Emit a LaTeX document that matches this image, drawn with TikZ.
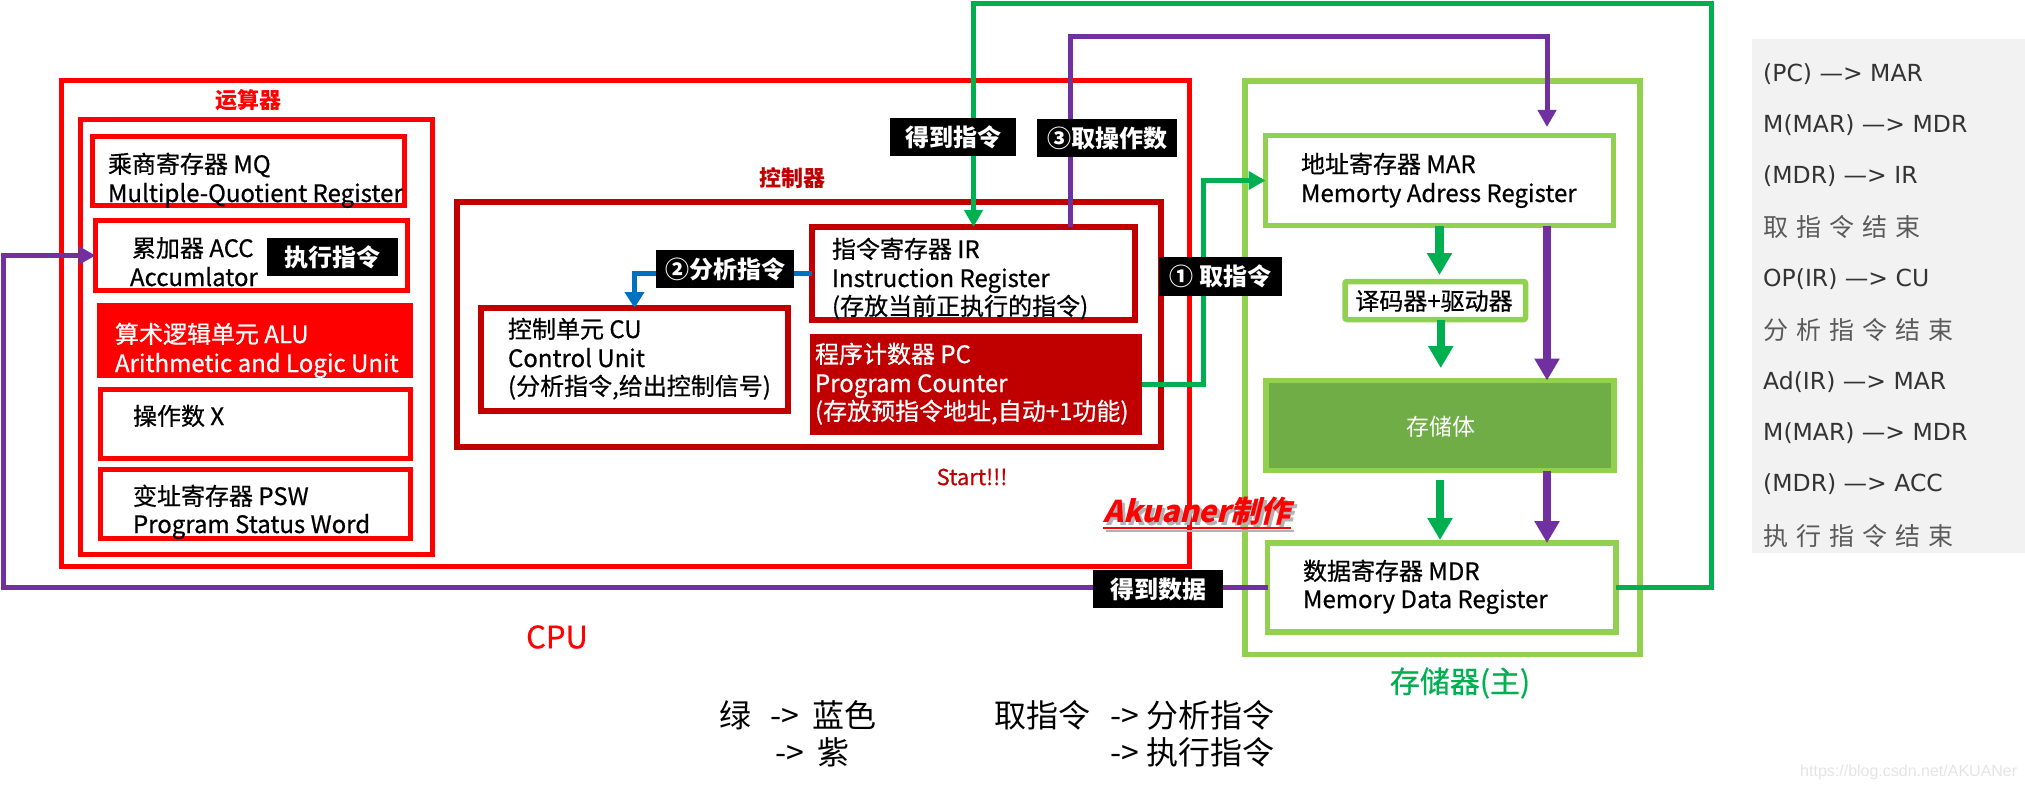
\documentclass[tikz,border=0pt]{standalone}
\usepackage{fontspec}
\setmainfont{Noto Sans CJK SC}
\newfontfamily\medfont[FakeBold=0.6]{Noto Sans CJK SC}
\newfontfamily\akfont[FakeSlant=0.25]{Noto Sans CJK SC}
\newfontfamily\latpanel{DejaVu Sans}
\newfontfamily\wmfont{Liberation Sans}
\usetikzlibrary{arrows.meta,calc}
\definecolor{cred}{HTML}{FF0000}
\definecolor{dred}{HTML}{C00000}
\definecolor{lgreen}{HTML}{92D050}
\definecolor{mgreen}{HTML}{70AD47}
\definecolor{sgreen}{HTML}{00B050}
\definecolor{purp}{HTML}{7030A0}
\definecolor{blu}{HTML}{0070C0}
\definecolor{panelbg}{HTML}{F2F2F2}
\definecolor{panelink}{HTML}{333333}
\definecolor{panelch}{HTML}{5A5A5A}
\definecolor{wmgray}{HTML}{E4E4E4}
\newcommand\chgap{\hspace{8pt}}
\tikzset{
 rbox/.style={draw=cred, line width=5pt, inner sep=0pt, outer sep=0pt},
 dbox/.style={draw=dred, line width=6pt, inner sep=0pt, outer sep=0pt},
 gbox/.style={draw=lgreen, line width=5.5pt, inner sep=0pt, outer sep=0pt},
 fbox/.style={inner sep=0pt, outer sep=0pt},
 txt/.style={anchor=base west, inner sep=0pt, outer sep=0pt, font=\medfont\fontsize{24}{28}\selectfont},
 wtxt/.style={txt, text=white},
 tag/.style={fill=black, text=white, inner sep=0pt, outer sep=0pt, font=\fontsize{24}{28}\selectfont\bfseries},
 title/.style={inner sep=0pt, font=\fontsize{22}{26}\selectfont\bfseries},
 gline/.style={draw=sgreen, line width=5pt, -{Triangle[length=17pt,width=18pt]}},
 pline/.style={draw=purp, line width=5pt, -{Triangle[length=17pt,width=18pt]}},
 bline/.style={draw=blu, line width=5pt, -{Triangle[length=16pt,width=19pt]}},
 gthick/.style={draw=sgreen, line width=8.5pt, -{Triangle[length=22pt,width=24pt]}},
 pthick/.style={draw=purp, line width=8pt, -{Triangle[length=22pt,width=24pt]}},
 ptxt/.style={anchor=west, inner sep=0pt, text=panelink, font=\latpanel\fontsize{23.5}{26}\selectfont},
 pch/.style={anchor=west, inner sep=0pt, text=panelch, font=\fontsize{25}{28}\selectfont},
 leg/.style={anchor=west, inner sep=0pt, font=\fontsize{32}{36}\selectfont},
}
\begin{document}
\begin{tikzpicture}[x=1pt,y=-1pt]
\useasboundingbox (0,0) rectangle (2025,789);
% right panel background
\node[fill=panelbg, fbox, minimum width=273pt, minimum height=514pt, anchor=north west] (panel) at (1752,39) {};

% ---------- CPU ----------
\node[rbox, minimum width=1128pt, minimum height=485pt] (cpu) at (625,323.5) {};
\node[rbox, minimum width=352pt, minimum height=434pt] (alu) at (256,337) {};
\node[rbox, minimum width=312pt, minimum height=69pt] (mq) at (248.5,171) {};
\node[rbox, minimum width=312pt, minimum height=70pt] (acc) at (251.5,255.5) {};
\node[fill=cred, fbox, minimum width=316pt, minimum height=75pt] (aluu) at (255,340.5) {};
\node[rbox, minimum width=310pt, minimum height=69pt] (opx) at (255,423.5) {};
\node[rbox, minimum width=310pt, minimum height=69pt] (psw) at (255,503.5) {};

\node[title, text=cred] (alut) at (248,100) {运算器};
\node[txt] (mq1) at (108,173) {乘商寄存器 MQ};
\node[txt] (mq2) at (108,202) {Multiple-Quotient Register};
\node[txt] (acc1) at (132,257) {累加器 ACC};
\node[txt] (acc2) at (130,286) {Accumlator};
\node[wtxt] (alu1) at (115,343) {算术逻辑单元 ALU};
\node[wtxt] (alu2) at (115,372) {Arithmetic and Logic Unit};
\node[txt] (opx1) at (133,425) {操作数 X};
\node[txt] (psw1) at (133,505) {变址寄存器 PSW};
\node[txt] (psw2) at (133,533) {Program Status Word};

% ---------- control ----------
\node[dbox, minimum width=704pt, minimum height=245pt] (ctl) at (809,324.5) {};
\node[dbox, minimum width=323pt, minimum height=93pt] (ir) at (973.5,273.5) {};
\node[dbox, minimum width=307pt, minimum height=103pt] (cu) at (634.5,359.5) {};
\node[fill=dred, fbox, minimum width=332pt, minimum height=101pt] (pc) at (976,384.5) {};

\node[title, text=dred] (ctlt) at (792,178) {控制器};
\node[txt] (ir1) at (832,258) {指令寄存器 IR};
\node[txt] (ir2) at (832,287) {Instruction Register};
\node[txt] (ir3) at (832,315) {(存放当前正执行的指令)};
\node[txt] (cu1) at (508,338) {控制单元 CU};
\node[txt] (cu2) at (508,367) {Control Unit};
\node[txt] (cu3) at (508,395) {(分析指令,给出控制信号)};
\node[wtxt] (pc1) at (815,363) {程序计数器 PC};
\node[wtxt] (pc2) at (815,392) {Program Counter};
\node[wtxt] (pc3) at (815,420) {(存放预指令地址,自动+1功能)};

% ---------- memory ----------
\node[gbox, minimum width=395pt, minimum height=573.5pt] (memo) at (1442.5,367.75) {};
\node[gbox, minimum width=348pt, minimum height=90pt] (mar) at (1439.5,180.5) {};
\node[gbox, rounded corners=2pt, minimum width=180.5pt, minimum height=38pt] (dec) at (1435.25,300.5) {};
\node[gbox, fill=mgreen, minimum width=348pt, minimum height=90pt] (mem) at (1440,425.5) {};
\node[gbox, minimum width=348.5pt, minimum height=89pt] (mdr) at (1441.75,587.5) {};

\node[txt] (mar1) at (1301,173) {地址寄存器 MAR};
\node[txt] (mar2) at (1301,202) {Memorty Adress Register};
\node[inner sep=0pt, font=\medfont\fontsize{24}{28}\selectfont] (dect) at (1434,301) {译码器+驱动器};
\node[inner sep=0pt, text=white, font=\fontsize{23}{28}\selectfont] (memt) at (1441,427) {存储体};
\node[txt] (mdr1) at (1303,580) {数据寄存器 MDR};
\node[txt] (mdr2) at (1303,608) {Memory Data Register};

% ---------- connectors ----------
\draw[gline] (pc.east) -| ($(mar.west)+(-62.5,0)$) -- (mar.west);
\draw[gline] (mdr.east) -| ($(mdr.east)+(95,-583.5)$) -| (ir.north);
\draw[pline] ($(ir.north)+(96.5,0)$) |- ($(mar.north)+(107.5,-98.5)$) -- ($(mar.north)+(107.5,-8.5)$);
\draw[pthick] ($(mar.south)+(107.5,0)$) -- ($(mem.north)+(107,0)$);
\draw[gthick] (mar.south) -- ($(mar.south |- dec.north)+(0,-6.5)$);
\draw[gthick] ($(dec.south)+(5.5,0)$) -- ($(mem.north)+(0.75,-12.5)$);
\draw[gthick] ($(mem.south)+(0,9.5)$) -- ($(mem.south |- mdr.north)+(0,-3)$);
\draw[pthick] ($(mem.south)+(107,0)$) -- ($(mem.south |- mdr.north)+(107,0)$);
\draw[pline] (mdr.west) -| ($(acc.west)+(-92.5,0)$) -- (acc.west);
\draw[bline] (ir.west) -| (cu.north);

% ---------- black tags ----------
\node[tag, minimum width=131pt, minimum height=38pt] (tagexe) at (332.5,257) {执行指令};
\node[tag, minimum width=138pt, minimum height=38pt] (tagana) at (725,269) {②分析指令};
\node[tag, minimum width=123pt, minimum height=39pt] (tagfetch) at (1220.5,276.5) {① 取指令};
\node[tag, minimum width=126pt, minimum height=38pt] (taggeti) at (953,137) {得到指令};
\node[tag, minimum width=140pt, minimum height=38pt] (tagop) at (1107,138) {③取操作数};
\node[tag, minimum width=130pt, minimum height=38pt] (tagdata) at (1158,589) {得到数据};

% ---------- other labels ----------
\node[inner sep=0pt, text=cred, font=\medfont\fontsize{31}{34}\selectfont] (cput) at (557,637) {CPU};
\node[inner sep=0pt, text=sgreen, font=\medfont\fontsize{30}{34}\selectfont] (memt2) at (1460,683) {存储器(主)};
\node[inner sep=0pt, text=dred, font=\medfont\fontsize{22}{26}\selectfont] (start) at (972,477) {Start!!!};
\node[anchor=base west, inner sep=0pt, text=gray!60, font=\akfont\fontsize{30}{34}\selectfont\bfseries] (aksh) at (1106,525) {Akuaner制作};
\draw[gray!60, line width=2.5pt] ($(aksh.base west)+(0,6)$) -- ($(aksh.base east)+(0,6)$);
\node[anchor=base west, inner sep=0pt, text=cred, font=\akfont\fontsize{30}{34}\selectfont\bfseries] (ak) at (1103,522) {Akuaner制作};
\draw[cred, line width=2.5pt] ($(ak.base west)+(0,6)$) -- ($(ak.base east)+(0,6)$);

% ---------- legend ----------
\node[leg] (lg1) at (719,715) {绿};
\node[leg] (lg2) at (770,715) {-> \hspace{6pt}蓝色};
\node[leg] (lg3) at (775,752) {-> \hspace{6pt}紫};
\node[leg] (lg4) at (994,715) {取指令};
\node[leg] (lg5) at (1110,715) {-> 分析指令};
\node[leg] (lg6) at (1110,752) {-> 执行指令};

% ---------- right panel ----------
\node[ptxt] (p1) at (1763,74) {(PC) —> MAR};
\node[ptxt] (p2) at (1763,125) {M(MAR) —> MDR};
\node[ptxt] (p3) at (1763,176) {(MDR) —> IR};
\node[pch] (p4) at (1763,227) {取\chgap 指\chgap 令\chgap 结\chgap 束};
\node[ptxt] (p5) at (1763,279) {OP(IR) —> CU};
\node[pch] (p6) at (1763,330) {分\chgap 析\chgap 指\chgap 令\chgap 结\chgap 束};
\node[ptxt] (p7) at (1763,382) {Ad(IR) —> MAR};
\node[ptxt] (p8) at (1763,433) {M(MAR) —> MDR};
\node[ptxt] (p9) at (1763,484) {(MDR) —> ACC};
\node[pch] (p10) at (1763,536) {执\chgap 行\chgap 指\chgap 令\chgap 结\chgap 束};

% watermark
\node[anchor=west, inner sep=0pt, text=wmgray, font=\wmfont\fontsize{16}{18}\selectfont] (wm) at (1800,772) {https://blog.csdn.net/AKUANer};
\end{tikzpicture}
\end{document}
